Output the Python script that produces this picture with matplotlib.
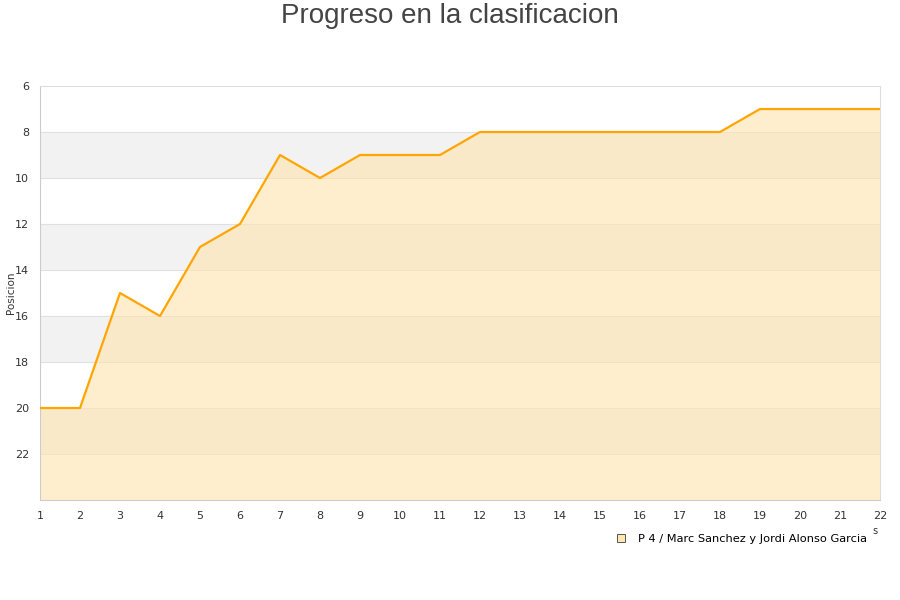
import matplotlib
matplotlib.use("Agg")
import matplotlib.pyplot as plt
from matplotlib.lines import Line2D

jornadas = list(range(1, 23))
posicion = [20, 20, 15, 16, 13, 12, 9, 10, 9, 9, 9, 8, 8, 8, 8, 8, 8, 8, 7, 7, 7, 7]
serie = "P 4 / Marc Sanchez y Jordi Alonso Garcia"
titulo = "Progreso en la clasificacion"
ylabel = "Posicion"
yticks = [6, 8, 10, 12, 14, 16, 18, 20, 22]

fig = plt.figure(figsize=(9, 6), dpi=100)
ax = fig.add_axes([40/900, 100/600, 840/900, 414/600])

ymin, ymax = 6, 24
# alternating bands
for lo in [8, 12, 16, 20]:
    ax.axhspan(lo, lo + 2, color="#f2f2f2", zorder=0, lw=0)
for y in yticks[1:]:
    ax.axhline(y, color="#e0e0e0", lw=0.8, zorder=1)

ax.fill_between(jornadas, posicion, ymax, color="#ffe4ad", alpha=0.6, lw=0, zorder=2)
ax.plot(jornadas, posicion, color="#ffa500", lw=1.6, zorder=3)

ax.set_xlim(1, 22)
ax.set_ylim(ymax, ymin)
ax.set_xticks(jornadas)
ax.set_yticks(yticks)
ax.tick_params(axis="both", length=0, labelsize=8, colors="#333333", pad=8)
for s in ["top", "right"]:
    ax.spines[s].set_color("#dddddd")
for s in ["left", "bottom"]:
    ax.spines[s].set_color("#cccccc")
for s in ax.spines.values():
    s.set_linewidth(0.8)

fig.text(11/900, 1 - 293/600, ylabel, rotation=90, ha="center", va="center",
         fontsize=7.5, color="#333333")
fig.text(0.5, 1 - 16/600, titulo, ha="center", va="center", fontsize=20,
         color="#444444", family="Liberation Sans")

handle = Line2D([], [], marker="s", linestyle="none", markersize=6,
                markerfacecolor="#ffe7b3", markeredgecolor="#555555", markeredgewidth=0.7)
leg = fig.legend([handle], [serie], loc="center right", bbox_to_anchor=(867/900, 1 - 539/600),
                 frameon=False, fontsize=8.2, handletextpad=0.5, borderaxespad=0,
                 borderpad=0)
fig.text(875/900, 1 - 531/600, "s", fontsize=7, color="#333333", ha="center", va="center")

fig.savefig("out.png", dpi=100)
